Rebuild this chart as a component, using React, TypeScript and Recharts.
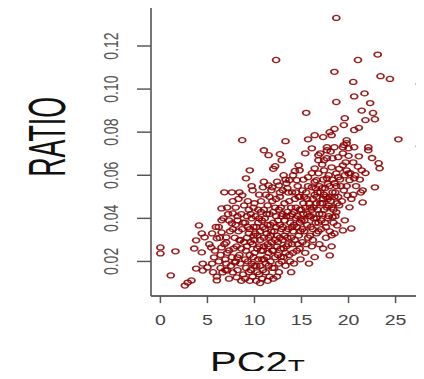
import { ScatterChart, Scatter, XAxis, YAxis, ReferenceLine } from "recharts";

// axis ticks
const xTicks = [0, 5, 10, 15, 20, 25];
const yTicks = [0.02, 0.04, 0.06, 0.08, 0.1, 0.12];

// [PC2_T, RATIO]
const upperPoints: [number, number][] = [
  [18.7, 0.133], [12.3, 0.1135], [21.0, 0.1135], [23.1, 0.116], [18.5, 0.108], [20.5, 0.1033],
  [23.4, 0.106], [24.4, 0.1047], [27.6, 0.1023], [21.7, 0.098], [20.6, 0.0966], [18.7, 0.094],
  [22.3, 0.0935], [15.5, 0.089], [21.4, 0.09], [22.6, 0.0889], [19.6, 0.0865], [21.8, 0.0856],
  [22.8, 0.086], [19.5, 0.0833], [18.5, 0.0815], [21.1, 0.082], [20.6, 0.081], [18.2, 0.0786],
  [25.3, 0.0767], [27.6, 0.0735], [8.7, 0.0763], [13.3, 0.0758], [15.7, 0.0767], [16.4, 0.0786],
  [17.3, 0.0777], [19.8, 0.0763], [11.0, 0.0716], [11.5, 0.0693], [12.7, 0.0698], [12.9, 0.067],
  [12.2, 0.0642], [15.4, 0.0702], [16.1, 0.0725], [16.8, 0.0693], [17.7, 0.073], [18.5, 0.073],
  [19.5, 0.074], [20.0, 0.0725], [20.6, 0.073], [22.1, 0.073], [22.1, 0.0716], [21.1, 0.0688],
  [23.2, 0.0656], [23.3, 0.0632], [21.4, 0.0623], [16.8, 0.067], [17.7, 0.0679], [18.9, 0.0684],
  [18.2, 0.0637], [14.7, 0.0646], [16.4, 0.0632], [9.5, 0.0623], [9.1, 0.0586], [14.1, 0.06],
  [14.8, 0.0623], [13.7, 0.0577], [15.7, 0.0591], [16.8, 0.0609], [17.9, 0.06], [18.9, 0.0591],
  [20.0, 0.0609], [20.6, 0.0586], [22.8, 0.0544], [11.5, 0.0553], [12.6, 0.0553], [19.4, 0.0702],
  [19.4, 0.0646], [18.3, 0.0679], [19.8, 0.0623], [20.1, 0.0577], [18.5, 0.0563], [21.5, 0.053],
  [19.9, 0.0507], [18.3, 0.0521], [19.8, 0.0749], [18.7, 0.0609], [18.0, 0.08], [17.0, 0.0702],
  [17.7, 0.0716], [17.4, 0.067], [17.4, 0.0623], [14.5, 0.0577], [16.6, 0.0577], [17.7, 0.0586],
  [13.4, 0.0563], [11.9, 0.0544], [10.9, 0.0544], [9.8, 0.053], [8.7, 0.0507], [13.0, 0.053],
  [14.0, 0.0521], [15.1, 0.053], [16.1, 0.0544], [17.2, 0.054], [12.7, 0.05], [14.8, 0.05],
  [16.6, 0.05], [18.0, 0.05], [6.8, 0.0521], [7.6, 0.0521], [8.4, 0.0521],
];

const rightPoints: [number, number][] = [
  [21.5, 0.0474], [20.1, 0.0451], [18.7, 0.0428], [19.6, 0.0391], [20.3, 0.0353], [19.4, 0.0344],
  [18.5, 0.033], [18.2, 0.0321], [18.0, 0.0228], [19.0, 0.046], [18.3, 0.0405], [18.8, 0.0367],
];

const leftPoints: [number, number][] = [
  [6.5, 0.0446], [6.5, 0.0391], [4.1, 0.0367], [0.0, 0.0265], [0.0, 0.0237], [1.6, 0.0247],
  [3.6, 0.026], [4.4, 0.0242], [3.8, 0.0298], [4.4, 0.033], [4.7, 0.0312], [5.5, 0.033],
  [6.0, 0.0307], [6.5, 0.0335], [7.0, 0.0312], [5.4, 0.0265], [6.5, 0.0265], [7.0, 0.0288],
  [7.3, 0.0251], [5.7, 0.0219], [5.5, 0.019], [3.8, 0.0167], [4.5, 0.0158], [5.0, 0.0172],
  [4.5, 0.019], [1.1, 0.0135], [2.9, 0.0102], [3.3, 0.0112], [2.6, 0.0088], [6.0, 0.0112],
  [6.6, 0.0149], [7.1, 0.0158], [7.7, 0.0149], [8.1, 0.0126], [7.6, 0.0377], [7.7, 0.0423],
  [8.2, 0.0391], [8.4, 0.0298], [8.2, 0.0219], [7.9, 0.0195],
  [5.2, 0.028], [5.8, 0.025], [6.3, 0.031], [5.9, 0.036], [6.7, 0.04], [6.2, 0.02], [5.6, 0.015],
  [6.9, 0.016], [6.4, 0.023],
];

const corePoints: [number, number][] = [
  [6.2, 0.036], [6.8, 0.028], [7.2, 0.042], [7.4, 0.034], [7.8, 0.026], [7.9, 0.031], [6.9, 0.021],
  [7.5, 0.018], [8.0, 0.045], [7.7, 0.048], [6.4, 0.017], [7.1, 0.024], [8.3, 0.034], [8.1, 0.027],
  [8.5, 0.019], [8.6, 0.042], [8.2, 0.016], [6.0, 0.013], [7.3, 0.012], [8.8, 0.014],
  [9.0, 0.038], [9.2, 0.031], [9.1, 0.025], [9.4, 0.044], [9.3, 0.02], [9.6, 0.016], [9.5, 0.035],
  [9.8, 0.028], [9.7, 0.04], [9.9, 0.022], [10.0, 0.047], [10.1, 0.033], [10.2, 0.018], [10.3, 0.026],
  [10.4, 0.038], [9.0, 0.012], [9.8, 0.013], [10.5, 0.014], [10.6, 0.03], [10.7, 0.043], [10.8, 0.021],
  [10.9, 0.036], [10.9, 0.016], [10.2, 0.011], [9.3, 0.048],
  [11.0, 0.027], [11.1, 0.04], [11.2, 0.019], [11.3, 0.033], [11.4, 0.046], [11.5, 0.024], [11.6, 0.013],
  [11.7, 0.037], [11.8, 0.029], [11.9, 0.017], [12.0, 0.043], [12.1, 0.034], [12.2, 0.022], [12.3, 0.049],
  [12.4, 0.027], [12.5, 0.039], [12.6, 0.015], [12.7, 0.031], [12.8, 0.045], [12.9, 0.02], [11.2, 0.051],
  [11.8, 0.053], [12.4, 0.057], [11.5, 0.031], [12.0, 0.012],
  [13.0, 0.036], [13.1, 0.026], [13.2, 0.047], [13.3, 0.018], [13.4, 0.041], [13.5, 0.031], [13.6, 0.052],
  [13.7, 0.023], [13.8, 0.038], [13.9, 0.045], [14.0, 0.028], [14.1, 0.034], [14.2, 0.019], [14.3, 0.049],
  [14.4, 0.04], [14.5, 0.025], [14.6, 0.055], [14.7, 0.032], [14.8, 0.044], [14.9, 0.021], [13.3, 0.058],
  [13.9, 0.015], [14.2, 0.037],
  [15.0, 0.039], [15.1, 0.029], [15.2, 0.047], [15.3, 0.034], [15.4, 0.024], [15.5, 0.052], [15.6, 0.042],
  [15.7, 0.031], [15.8, 0.019], [15.9, 0.045], [16.0, 0.036], [16.1, 0.027], [16.2, 0.049], [16.3, 0.04],
  [16.4, 0.022], [16.5, 0.054], [16.6, 0.033], [16.7, 0.044], [16.8, 0.038], [16.9, 0.028],
  [17.0, 0.047], [17.1, 0.035], [17.2, 0.042], [17.3, 0.026], [17.4, 0.051], [17.5, 0.038], [17.6, 0.031],
  [17.7, 0.045], [17.8, 0.056], [17.9, 0.041], [18.0, 0.034], [18.1, 0.048], [18.2, 0.027], [18.4, 0.044],
  [18.6, 0.052], [18.8, 0.047], [19.2, 0.055], [19.5, 0.053], [20.3, 0.049], [20.8, 0.055], [21.2, 0.058],
  [19.0, 0.063], [20.5, 0.066], [21.8, 0.061], [22.5, 0.068], [20.0, 0.069], [19.4, 0.073], [18.1, 0.071],
  [17.2, 0.065], [16.1, 0.061], [15.2, 0.058], [14.3, 0.062], [13.1, 0.06], [12.0, 0.063],
  [10.5, 0.051], [9.7, 0.055], [11.0, 0.057],
];

const densePoints: [number, number][] = [
  [7.0, 0.019], [7.6, 0.022], [8.4, 0.023], [8.9, 0.029], [8.0, 0.037], [8.7, 0.035], [7.3, 0.039],
  [8.9, 0.046], [8.3, 0.049], [7.1, 0.045],
  [9.1, 0.017], [9.5, 0.023], [9.2, 0.027], [9.4, 0.033], [9.9, 0.036], [9.6, 0.042], [10.0, 0.024],
  [10.0, 0.03], [9.7, 0.019], [10.1, 0.041], [9.2, 0.041], [9.9, 0.045],
  [10.3, 0.015], [10.4, 0.021], [10.5, 0.027], [10.6, 0.034], [10.4, 0.044], [10.8, 0.039], [10.9, 0.025],
  [10.7, 0.048], [10.8, 0.012], [11.0, 0.031], [11.0, 0.044], [10.3, 0.032],
  [11.2, 0.015], [11.3, 0.022], [11.4, 0.028], [11.4, 0.037], [11.6, 0.042], [11.7, 0.02], [11.8, 0.034],
  [11.9, 0.048], [11.9, 0.025], [11.6, 0.05],
  [12.1, 0.017], [12.2, 0.03], [12.3, 0.036], [12.5, 0.023], [12.6, 0.044], [12.7, 0.052], [12.8, 0.026],
  [12.9, 0.035], [12.9, 0.041], [12.3, 0.041], [12.6, 0.019],
  [13.1, 0.022], [13.2, 0.032], [13.4, 0.027], [13.5, 0.043], [13.6, 0.035], [13.7, 0.048], [13.8, 0.02],
  [13.9, 0.031], [13.5, 0.054], [14.0, 0.042],
  [14.1, 0.024], [14.3, 0.03], [14.4, 0.045], [14.5, 0.036], [14.6, 0.028], [14.7, 0.05], [14.9, 0.04],
  [14.9, 0.034], [14.4, 0.052], [14.8, 0.026],
  [15.1, 0.035], [15.2, 0.042], [15.3, 0.05], [15.5, 0.028], [15.6, 0.037], [15.8, 0.047], [15.9, 0.032],
  [15.7, 0.055], [15.4, 0.045], [16.0, 0.041],
  [16.2, 0.03], [16.3, 0.045], [16.5, 0.038], [16.6, 0.047], [16.7, 0.052], [16.8, 0.034], [16.9, 0.042],
  [16.4, 0.057], [16.9, 0.055], [16.2, 0.035],
  [17.1, 0.039], [17.2, 0.047], [17.4, 0.044], [17.5, 0.054], [17.6, 0.036], [17.8, 0.049], [17.9, 0.046],
  [17.3, 0.058], [17.8, 0.04], [18.0, 0.055],
  [18.2, 0.045], [18.3, 0.058], [18.5, 0.05], [18.7, 0.055], [18.9, 0.05], [18.4, 0.038], [18.6, 0.041],
  [19.1, 0.058], [19.3, 0.048], [19.6, 0.06],
  [19.8, 0.055], [20.2, 0.061], [20.5, 0.051], [21.0, 0.064], [19.7, 0.066], [20.7, 0.06], [21.3, 0.052],
  [9.5, 0.011], [10.6, 0.01], [11.4, 0.011], [12.4, 0.013], [8.6, 0.011],
];

// the darkest, most overlapped part of the cloud
const clusterPoints: [number, number][] = [
  [8.5, 0.03], [8.8, 0.038], [9.3, 0.036], [9.6, 0.029], [9.9, 0.032], [10.2, 0.036], [10.5, 0.04],
  [10.7, 0.025], [11.1, 0.035], [11.3, 0.042], [11.5, 0.027], [11.7, 0.032], [12.0, 0.038], [12.2, 0.045],
  [12.4, 0.032], [12.7, 0.037], [12.8, 0.022], [13.0, 0.042], [13.2, 0.039], [13.4, 0.034], [13.6, 0.028],
  [13.8, 0.041], [14.0, 0.036], [14.2, 0.043], [14.6, 0.041], [14.8, 0.038], [15.0, 0.044], [15.3, 0.039],
  [15.6, 0.049], [15.8, 0.041], [16.1, 0.044], [16.4, 0.051], [16.6, 0.04], [17.0, 0.052], [17.3, 0.049],
  [17.6, 0.05], [9.0, 0.021], [9.4, 0.015], [10.0, 0.018], [10.6, 0.018], [11.0, 0.021], [11.5, 0.018],
  [12.0, 0.025], [12.5, 0.029], [13.0, 0.03], [13.3, 0.024], [8.0, 0.02], [8.6, 0.026], [7.7, 0.035],
  [8.2, 0.041],
];

const points = [...upperPoints, ...rightPoints, ...leftPoints, ...corePoints, ...densePoints, ...clusterPoints].map(
  ([x, y]) => ({ x, y })
);

// the reference is squashed vertically, so the chart is drawn tall and scaled down
const SQUASH = 0.72;
const FONT = "Liberation Sans, Arial, Helvetica, sans-serif";

function Ring(props: any) {
  const { cx, cy } = props;
  if (cx == null || cy == null) return null;
  return <circle cx={cx} cy={cy} r={3.5} fill="none" stroke="#8b0000" strokeOpacity={0.88} strokeWidth={1.75} />;
}

function XTick({ x, y, payload }: any) {
  return (
    <text x={x} y={y} textAnchor="middle" fontSize={19.5} fill="#444" fontFamily={FONT}>
      {payload.value}
    </text>
  );
}

function YTick({ x, y, payload }: any) {
  return (
    <text x={x} y={y} transform={`rotate(-90 ${x} ${y})`} textAnchor="middle" fontSize={19.5} fill="#555" fontFamily={FONT}>
      {Number(payload.value).toFixed(2)}
    </text>
  );
}

function RatioLabel(props: any) {
  const vb = props.viewBox ?? { x: 0, y: 10 };
  const x = vb.x + 65;
  const y = vb.y + 180;
  return (
    <text x={x} y={y} transform={`rotate(-90 ${x} ${y})`} textAnchor="middle" fontSize={52}
      textLength={111} lengthAdjust="spacingAndGlyphs" fill="#111" fontFamily={FONT}>
      RATIO
    </text>
  );
}

function PcLabel(props: any) {
  const vb = props.viewBox ?? { x: 151, y: 411 };
  return (
    <text x={vb.x + 59} y={vb.y + 105} fontSize={40} fill="#111" fontFamily={FONT}>
      PC2
      <tspan fontSize={28} dy={4}>T</tspan>
    </text>
  );
}

export default function App() {
  return (
    <div style={{ margin: -8, width: 424, height: 379, overflow: "hidden", background: "#fff" }}>
      <div style={{ width: 424, height: 527, transform: `scaleY(${SQUASH})`, transformOrigin: "0 0" }}>
        <ScatterChart width={424} height={527} margin={{ top: 10, right: -28, bottom: 0, left: 0 }}>
          <XAxis
            type="number"
            dataKey="x"
            domain={[-1, 31]}
            ticks={xTicks}
            allowDataOverflow
            height={116}
            tickSize={10}
            tickMargin={30}
            tick={<XTick />}
            axisLine={{ stroke: "#333", strokeWidth: 2 }}
            tickLine={{ stroke: "#555", strokeWidth: 1.5 }}
            label={<PcLabel />}
          />
          <YAxis
            type="number"
            dataKey="y"
            domain={[0.004, 0.138]}
            ticks={yTicks}
            allowDataOverflow
            width={151}
            tickSize={14}
            tickMargin={19}
            tick={<YTick />}
            axisLine={{ stroke: "#555", strokeWidth: 1.6 }}
            tickLine={{ stroke: "#555", strokeWidth: 2 }}
            label={<RatioLabel />}
          />
          <ReferenceLine y={0.138} stroke="#888" strokeWidth={2.5} />
          <Scatter data={points} shape={<Ring />} isAnimationActive={false} />
        </ScatterChart>
      </div>
    </div>
  );
}
